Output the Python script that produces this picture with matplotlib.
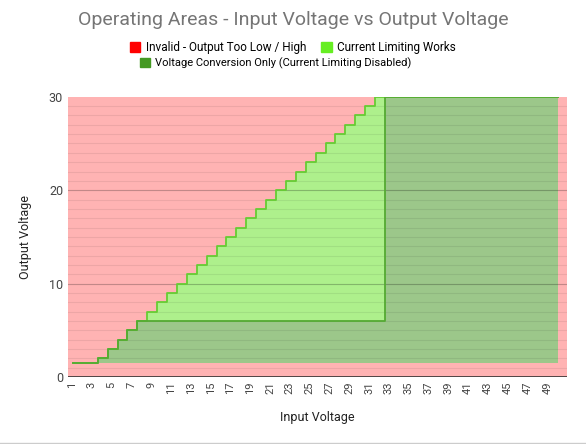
import numpy as np
import matplotlib.pyplot as plt
from matplotlib.patches import Patch

plt.rcParams['font.family'] = ['Roboto', 'DejaVu Sans']

input_v = list(range(1, 51))
# lower edge of usable region
floor_v = [1.5] * 50
# upper limit of current limiting area
limit_top = [1.5, 1.5, 1.5, 2] + [min(k - 2, 30) for k in range(5, 51)]
# upper limit of voltage conversion only area
conv_top = [1.5, 1.5, 1.5, 2, 3, 4, 5] + [6] * 25 + [30] * 18

x = np.array(input_v) + 0.1
fig, ax = plt.subplots(figsize=(5.86, 4.44), dpi=100)
fig.subplots_adjust(left=0.116, right=0.968, top=0.782, bottom=0.151)
ax.set_facecolor('#ffb3b3')
ax.fill_between(x, floor_v, limit_top, step='mid', color='#aef08c', lw=0)
ax.fill_between(x, floor_v, conv_top, step='mid', color='#9cc78a', lw=0)
for yy in range(1, 30):
    ax.axhline(yy, color='#000000', alpha=0.07, lw=0.8, zorder=1)
for yy in (10, 20):
    ax.axhline(yy, color='#000000', alpha=0.18, lw=0.8, zorder=1)
ax.step(x, limit_top, where='mid', color='#66cc33', lw=1.3, zorder=3)
ax.step(x, conv_top, where='mid', color='#55aa33', lw=1.3, zorder=3)
ax.axhline(0, color='#333333', lw=1.2, zorder=4)

ax.set_xlim(0.6, 51)
ax.set_ylim(0, 30)
ax.set_yticks([0, 10, 20, 30])
ax.set_xticks(input_v[::2])
ax.set_xticklabels([str(v) for v in input_v[::2]], rotation=90)
ax.tick_params(length=0, labelsize=8, colors='#444444')
ax.tick_params(axis='y', labelsize=9)
for s in ax.spines.values():
    s.set_visible(False)
ax.set_xlabel('Input Voltage', fontsize=9, color='#222222', labelpad=12)
ax.set_ylabel('Output Voltage', fontsize=9, color='#222222', labelpad=12)

fig.suptitle('Operating Areas - Input Voltage vs Output Voltage', y=0.975,
             fontsize=14, color='#757575')
h1 = [Patch(color='#ff0000', label='Invalid - Output Too Low / High'),
      Patch(color='#66ee22', label='Current Limiting Works')]
l1 = fig.legend(handles=h1, ncol=2, loc='center', bbox_to_anchor=(0.5, 0.893),
                frameon=False, fontsize=8.5, handlelength=0.9, handleheight=0.9,
                columnspacing=1.2, handletextpad=0.5)
h2 = [Patch(color='#449922', label='Voltage Conversion Only (Current Limiting Disabled)')]
fig.legend(handles=h2, loc='center', bbox_to_anchor=(0.47, 0.858),
           frameon=False, fontsize=8, handlelength=0.9, handleheight=0.9,
           handletextpad=0.5)
fig.add_artist(plt.Line2D([0, 1], [0.002, 0.002], color='#cccccc', lw=1))
fig.savefig('out.png')
